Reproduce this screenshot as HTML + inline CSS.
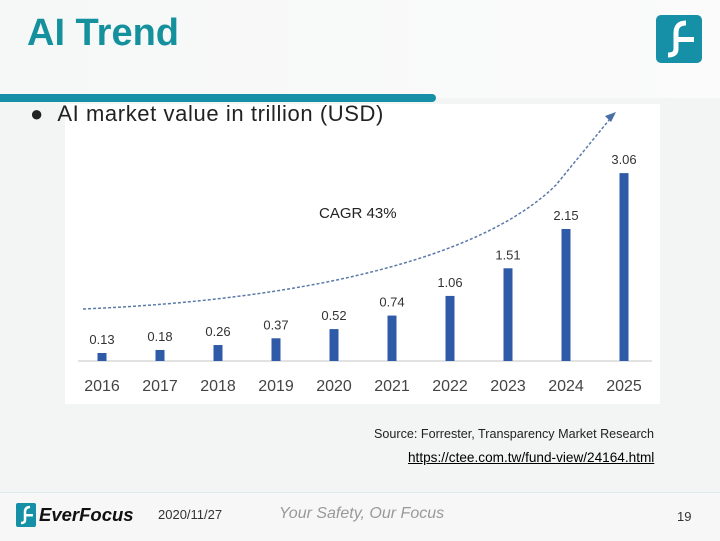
<!DOCTYPE html>
<html><head><meta charset="utf-8"><style>
body{margin:0;width:720px;height:540px;overflow:hidden;background:#f3f4f4;font-family:"Liberation Sans",sans-serif;position:relative}
.a{position:absolute}
</style></head><body>
<div class="a" style="left:0;top:0;width:720px;height:98px;background:linear-gradient(90deg,#f6f7f7,#fbfbfb)"></div>
<div class="a" style="left:27px;top:12px;font-size:38px;font-weight:bold;color:#15919e;letter-spacing:0px">AI Trend</div>
<svg class="a" style="left:656px;top:15px" width="46" height="48"><rect x="0" y="0" width="46" height="48" rx="5" fill="#1590a6"/><path d="M30 8 Q20 8 20 18 V34 Q20 40 12 40" stroke="#fff" stroke-width="5" fill="none"/><rect x="22" y="22" width="16" height="5" fill="#fff"/></svg>
<div class="a" style="left:0;top:94px;width:436px;height:8px;background:#1590a6;border-radius:0 4px 4px 0"></div>
<div class="a" style="left:65px;top:104px;width:595px;height:300px;background:#fff"></div>
<div class="a" style="left:30px;top:101px;font-size:22px;letter-spacing:0.6px;color:#222">● &nbsp;AI market value in trillion (USD)</div>
<svg class="a" id="chart" style="left:0;top:0" width="720" height="540"></svg>
<div class="a" style="left:319px;top:205px;font-size:15px;color:#222">CAGR 43%</div>
<div class="a" style="left:374px;top:427px;font-size:12.6px;color:#222">Source: Forrester, Transparency Market Research</div>
<div class="a" style="left:408px;top:450px;font-size:13.6px;color:#000;text-decoration:underline">https://ctee.com.tw/fund-view/24164.html</div>
<div class="a" style="left:0;top:492px;width:720px;height:48px;background:#f7f7f7;border-top:1px solid #dde9ea"></div>
<svg class="a" style="left:16px;top:503px" width="20" height="24"><rect width="20" height="24" rx="2" fill="#1590a6"/><path d="M14 4 Q9 4 9 9 V17 Q9 20 5 20" stroke="#fff" stroke-width="2.5" fill="none"/><rect x="10" y="11" width="7" height="2.5" fill="#fff"/></svg>
<div class="a" style="left:39px;top:504px;font-size:18.5px;font-weight:bold;font-style:italic;color:#111">EverFocus</div>
<div class="a" style="left:158px;top:507px;font-size:13px;color:#333">2020/11/27</div>
<div class="a" style="left:279px;top:505px;font-size:16px;font-style:italic;color:#999">Your Safety, Our Focus</div>
<div class="a" style="left:677px;top:509px;font-size:13px;color:#333">19</div>
<script>
const years=["2016","2017","2018","2019","2020","2021","2022","2023","2024","2025"];
const values=[0.13,0.18,0.26,0.37,0.52,0.74,1.06,1.51,2.15,3.06];
const labels=["0.13","0.18","0.26","0.37","0.52","0.74","1.06","1.51","2.15","3.06"];
const svg=document.getElementById('chart');const NS='http://www.w3.org/2000/svg';
const x=i=>102+i*58, y=v=>361-v*61.4;
function mk(t,a){const e=document.createElementNS(NS,t);for(const k in a)e.setAttribute(k,a[k]);svg.appendChild(e);return e;}
const ax=mk('line',{x1:78,y1:361,x2:652,y2:361,stroke:'#d9d9d9','stroke-width':1.5});


const tr=mk('path',{d:'M83 309 C300 300 480 260 556 185 L614 114',fill:'none',stroke:'#5a7aa8','stroke-width':1.5,'stroke-dasharray':'3 2'});


const ar=mk('path',{d:'M616 112 L605 116 L611 122 Z',fill:'#4a6fa5'});


values.forEach((v,i)=>{
const b=mk('rect',{x:x(i)-4.5,y:y(v),width:9,height:361-y(v),fill:'#2e5aa8'});


const t=mk('text',{x:x(i),y:y(v)-9,'text-anchor':'middle','font-size':13,fill:'#333','font-family':'Liberation Sans'});t.textContent=labels[i];


const l=mk('text',{x:x(i),y:391,'text-anchor':'middle','font-size':16,fill:'#444','font-family':'Liberation Sans'});l.textContent=years[i];


});
</script>
</body></html>
